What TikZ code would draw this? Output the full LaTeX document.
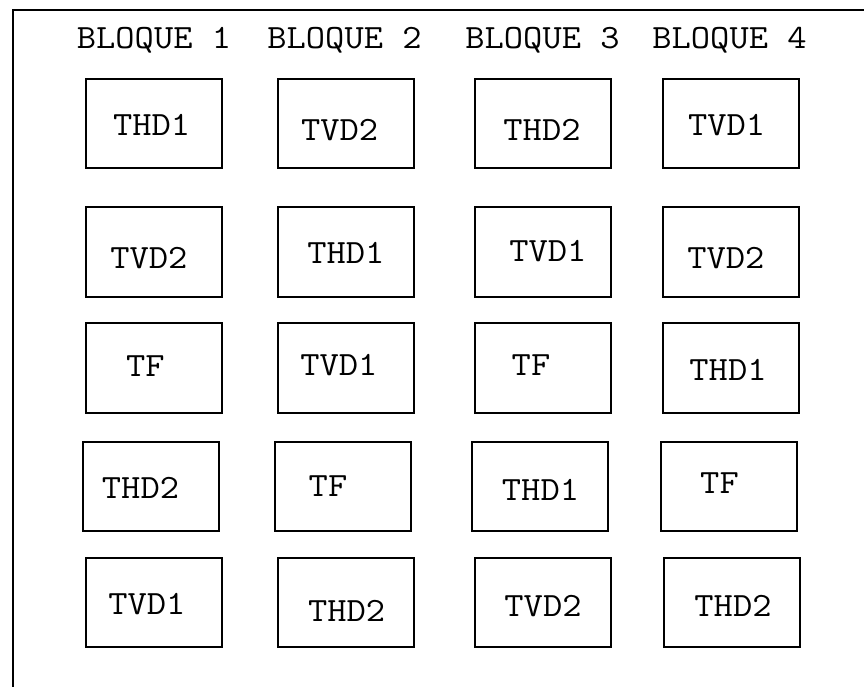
\documentclass[tikz,border=0pt]{standalone}
\usepackage{graphicx}
\newcommand\wid[1]{\scalebox{1.1}[1]{#1}}
\begin{document}
\begin{tikzpicture}[x=1pt,y=-1pt,
  cell/.style={draw,line width=2pt,minimum width=136pt,minimum height=89.5pt,inner sep=0pt},
  lab/.style={inner sep=0pt,anchor=base,font=\ttfamily\fontsize{34}{40}\selectfont},
  frame/.style={line width=2pt}]
\useasboundingbox (0,0) rectangle (864,686);
\fill[white] (0,0) rectangle (864,686);
\coordinate (fa) at (12.5,690);
\coordinate (fb) at (12.5,9.5);
\coordinate (fc) at (870,9.5);
\draw[frame] (fa) -- (fb) -- (fc);
% headers
\node[lab] (h1) at (154,48.5) {\wid{BLOQUE 1}};
\node[lab] (h2) at (344.5,48.5) {\wid{BLOQUE 2}};
\node[lab] (h3) at (542.5,48.5) {\wid{BLOQUE 3}};
\node[lab] (h4) at (729.5,48.5) {\wid{BLOQUE 4}};
% row 1
\node[cell] (b11) at (154,123.5) {};
\node[cell] (b12) at (345.5,123.5) {};
\node[cell] (b13) at (543,123.5) {};
\node[cell] (b14) at (731,123.5) {};
\node[lab] (t11) at (151.7,135) {\wid{THD1}};
\node[lab] (t12) at (339.7,140) {\wid{TVD2}};
\node[lab] (t13) at (542,140) {\wid{THD2}};
\node[lab] (t14) at (726.7,135) {\wid{TVD1}};
% row 2
\node[cell] (b21) at (154,252) {};
\node[cell] (b22) at (346,252) {};
\node[cell] (b23) at (543,252) {};
\node[cell] (b24) at (731,252) {};
\node[lab] (t21) at (148.8,268.3) {\wid{TVD2}};
\node[lab] (t22) at (345.8,263.3) {\wid{THD1}};
\node[lab] (t23) at (547.8,261.7) {\wid{TVD1}};
\node[lab] (t24) at (725.8,268.3) {\wid{TVD2}};
% row 3
\node[cell] (b31) at (154,368) {};
\node[cell] (b32) at (346,368) {};
\node[cell] (b33) at (543,368) {};
\node[cell] (b34) at (731,368) {};
\node[lab] (t31) at (145.3,376) {\wid{TF}};
\node[lab] (t32) at (338.8,375) {\wid{TVD1}};
\node[lab] (t33) at (531,375) {\wid{TF}};
\node[lab] (t34) at (728,380) {\wid{THD1}};
% row 4
\node[cell] (b41) at (151,486.5) {};
\node[cell] (b42) at (342.5,486.5) {};
\node[cell] (b43) at (540,486.5) {};
\node[cell] (b44) at (728.5,486.5) {};
\node[lab] (t41) at (140.5,498.3) {\wid{THD2}};
\node[lab] (t42) at (328,496) {\wid{TF}};
\node[lab] (t43) at (540.5,500.7) {\wid{THD1}};
\node[lab] (t44) at (719.5,493.3) {\wid{TF}};
% row 5
\node[cell] (b51) at (154,602.5) {};
\node[cell] (b52) at (345.5,602.5) {};
\node[cell] (b53) at (542.5,602.5) {};
\node[cell] (b54) at (731.5,602.5) {};
\node[lab] (t51) at (146.8,614.3) {\wid{TVD1}};
\node[lab] (t52) at (346.7,621.7) {\wid{THD2}};
\node[lab] (t53) at (543,616.7) {\wid{TVD2}};
\node[lab] (t54) at (733,616.7) {\wid{THD2}};
\end{tikzpicture}
\end{document}
